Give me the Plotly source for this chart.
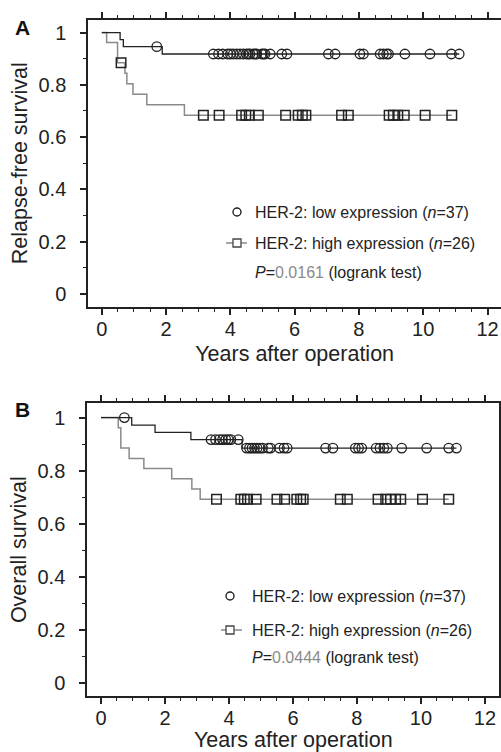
import numpy as np
import plotly.graph_objects as go

# ---------------- data ----------------
# Panel A: relapse-free survival
a_low_step_t = [0, 0.57, 0.67, 1.88, 11.12]
a_low_step_s = [1.0, 0.973, 0.946, 0.918, 0.918]
a_low_cens_t = [1.71, 3.47, 3.63, 3.76, 3.92, 4.00, 4.09, 4.20, 4.30, 4.40, 4.50, 4.56,
                4.61, 4.71, 4.77, 4.82, 4.98, 5.03, 5.08, 5.24, 5.60, 5.76, 7.05, 7.26,
                8.03, 8.14, 8.66, 8.76, 8.86, 8.92, 9.43, 10.21, 10.88, 11.12]
a_high_step_t = [0, 0.15, 0.49, 0.72, 0.78, 0.97, 1.40, 2.57, 10.89]
a_high_step_s = [1.0, 0.962, 0.885, 0.844, 0.804, 0.764, 0.724, 0.684, 0.684]
a_high_cens_t = [0.60, 3.16, 3.65, 4.35, 4.48, 4.59, 4.87, 5.72, 6.11, 6.24, 6.35, 7.46,
                 7.67, 8.94, 9.07, 9.21, 9.41, 10.06, 10.89]

# Panel B: overall survival
b_low_step_t = [0, 0.96, 1.69, 2.81, 4.41, 11.11]
b_low_step_s = [1.0, 0.972, 0.944, 0.917, 0.885, 0.885]
b_low_cens_t = [0.73, 3.44, 3.58, 3.70, 3.80, 3.90, 3.98, 4.06, 4.29,
                4.55, 4.64, 4.72, 4.80, 4.88, 4.96, 5.05, 5.23, 5.30,
                5.58, 5.72, 5.82, 7.02, 7.25, 7.95, 8.05, 8.15,
                8.60, 8.72, 8.84, 8.95, 9.40, 10.18, 10.87, 11.11]
b_high_step_t = [0, 0.54, 0.62, 0.88, 1.34, 2.21, 2.84, 3.10, 10.87]
b_high_step_s = [1.0, 0.962, 0.885, 0.846, 0.808, 0.769, 0.731, 0.692, 0.692]
b_high_cens_t = [3.61, 4.37, 4.48, 4.58, 4.85, 5.50, 5.74, 6.12, 6.24, 6.32, 7.48, 7.70,
                 8.66, 8.90, 9.05, 9.21, 9.37, 10.05, 10.87]

x_tickvals = [0, 2, 4, 6, 8, 10, 12]
x_ticktext = ["0", "2", "4", "6", "8", "10", "12"]
x_minorvals = [v * 0.5 for v in range(0, 26)]
y_tickvals = [0, 0.2, 0.4, 0.6, 0.8, 1.0]
y_ticktext = ["0", "0.2", "0.4", "0.6", "0.8", "1"]
y_minorvals = [v * 0.1 for v in range(0, 11)]

legend_low = "HER-2: low expression (<i>n</i>=37)"
legend_high = "HER-2: high expression (<i>n</i>=26)"
p_a = "0.0161"
p_b = "0.0444"

# ---------------- style ----------------
W, H = 501, 752
FONT = "Liberation Sans, Arial, sans-serif"
INK = "#222222"
GRAY = "#8a8a8a"


def surv_at(ts, st, t):
    idx = np.searchsorted(np.array(ts), np.array(t), side="right") - 1
    return list(np.array(st)[idx])


fig = go.Figure()


def add_panel(xa, ya, lt, ls, lc, ht, hs, hc):
    fig.add_trace(go.Scatter(x=ht, y=hs, mode="lines", line=dict(color=GRAY, width=1.5, shape="hv"),
                             xaxis=xa, yaxis=ya, showlegend=False, hoverinfo="skip"))
    fig.add_trace(go.Scatter(x=lt, y=ls, mode="lines", line=dict(color=INK, width=1.3, shape="hv"),
                             xaxis=xa, yaxis=ya, showlegend=False, hoverinfo="skip"))
    fig.add_trace(go.Scatter(x=hc, y=surv_at(ht, hs, hc), mode="markers",
                             marker=dict(symbol="square-open", size=9.5, color=INK, line=dict(width=1.5)),
                             xaxis=xa, yaxis=ya, showlegend=False))
    fig.add_trace(go.Scatter(x=lc, y=surv_at(lt, ls, lc), mode="markers",
                             marker=dict(symbol="circle-open", size=9.5, color=INK, line=dict(width=1.3)),
                             xaxis=xa, yaxis=ya, showlegend=False))


add_panel("x", "y", a_low_step_t, a_low_step_s, a_low_cens_t, a_high_step_t, a_high_step_s, a_high_cens_t)
add_panel("x2", "y2", b_low_step_t, b_low_step_s, b_low_cens_t, b_high_step_t, b_high_step_s, b_high_cens_t)


def px2p(x, y):
    return x / W, 1 - y / H


def xaxis(domain, rng, anchor):
    return dict(domain=domain, range=rng, anchor=anchor, tickmode="array", tickvals=x_tickvals,
                ticktext=x_ticktext, ticks="outside", ticklen=6, tickwidth=1.5, tickcolor=INK,
                showline=True, linewidth=2, linecolor=INK, mirror="ticks", showgrid=False,
                zeroline=False, automargin=False, ticklabelstandoff=-3, ticklabeloverflow="allow",
                tickfont=dict(size=20, color=INK, family=FONT),
                minor=dict(tickmode="array", tickvals=x_minorvals, ticks="outside", ticklen=3,
                           tickwidth=1, tickcolor=INK, showgrid=False),
                title=dict(text="Years after operation", font=dict(size=21.5, color=INK, family=FONT),
                           standoff=7))


def yaxis(domain, rng, anchor, title, mirror):
    return dict(domain=domain, range=rng, anchor=anchor, tickmode="array", tickvals=y_tickvals,
                ticktext=y_ticktext, ticks="outside", ticklen=6, tickwidth=1.5, tickcolor=INK,
                showline=True, linewidth=2, linecolor=INK, mirror=mirror, showgrid=False,
                zeroline=False, automargin=False, ticklabelstandoff=10, ticklabeloverflow="allow",
                tickfont=dict(size=20, color=INK, family=FONT),
                minor=dict(tickmode="array", tickvals=y_minorvals, ticks="outside", ticklen=3,
                           tickwidth=1, tickcolor=INK, showgrid=False),
                title=dict(text=title, font=dict(size=21.5, color=INK, family=FONT), standoff=5))


def ydom(top_px, bot_px):
    return [1 - bot_px / H, 1 - top_px / H]


annotations = []
shapes = []


def legend_block(cx, tx, y1, y2, y3, pval, lx0, lx1):
    xp, yp = px2p(cx, y1)
    shapes.append(dict(type="circle", xref="paper", yref="paper", xsizemode="pixel", ysizemode="pixel",
                       xanchor=xp, yanchor=yp, x0=-4, x1=4, y0=-4, y1=4,
                       line=dict(color=INK, width=1.4)))
    a0, b0 = px2p(lx0, y2)
    a1, _ = px2p(lx1, y2)
    shapes.append(dict(type="line", xref="paper", yref="paper", x0=a0, x1=a1, y0=b0, y1=b0,
                       line=dict(color=GRAY, width=1.5)))
    xp2, _ = px2p(cx, y2)
    shapes.append(dict(type="rect", xref="paper", yref="paper", xsizemode="pixel", ysizemode="pixel",
                       xanchor=xp2, yanchor=b0, x0=-4, x1=4, y0=-4, y1=4,
                       line=dict(color="#444444", width=1.3), fillcolor="white"))
    for yy, txt in [(y1, legend_low), (y2, legend_high),
                    (y3, "<i>P</i>=<span style='color:#8a8a8a'>" + pval + "</span> (logrank test)")]:
        xa, ya_ = px2p(tx, yy)
        annotations.append(dict(x=xa, y=ya_, xref="paper", yref="paper", text=txt, showarrow=False,
                                xanchor="left", yanchor="middle",
                                font=dict(size=16, color=INK, family=FONT)))


legend_block(237, 253, 212, 243, 273, p_a, 226, 247)
legend_block(230, 250, 596, 630, 657, p_b, 221, 242)

for lab, (x, y) in [("A", (22, 27)), ("B", (22, 409))]:
    xa, ya_ = px2p(x, y)
    annotations.append(dict(x=xa, y=ya_, xref="paper", yref="paper", text="<b>" + lab + "</b>",
                            showarrow=False, xanchor="center", yanchor="middle",
                            font=dict(size=21, color="#111111", family=FONT)))

fig.update_layout(
    width=W, height=H, margin=dict(l=0, r=0, t=0, b=0),
    paper_bgcolor="white", plot_bgcolor="white",
    font=dict(family=FONT, color=INK),
    showlegend=False,
    xaxis=xaxis([88.3 / W, 1.0], [-0.42, 12.42], "y"),
    yaxis=yaxis(ydom(19.5, 307), [-0.05, 1.05], "x", "Relapse-free survival", False),
    xaxis2=xaxis([87.3 / W, 499.3 / W], [-0.428, 12.45], "y2"),
    yaxis2=yaxis(ydom(403.3, 696), [-0.05, 1.054], "x2", "Overall survival", "ticks"),
    annotations=annotations, shapes=shapes,
)

fig.write_html("out.html", config={"displayModeBar": False},
               post_script="document.body.style.margin='0';document.body.style.overflow='hidden';")
